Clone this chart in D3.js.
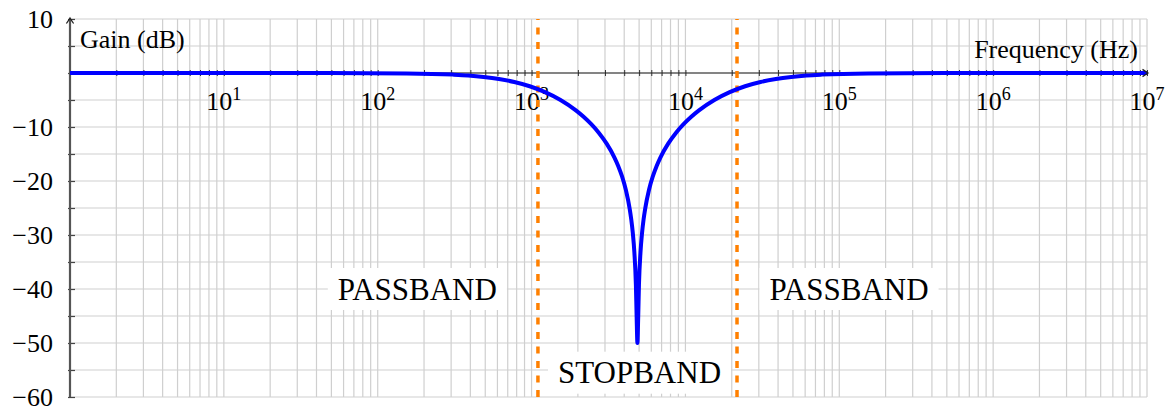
<!DOCTYPE html>
<html>
<head>
<meta charset="utf-8">
<script src="https://cdn.jsdelivr.net/npm/d3@7"></script>
<style>
  body { margin: 0; background: #fff; }
  svg { display: block; }
  text { font-family: "Liberation Serif", "Times New Roman", serif; fill: #000; }
</style>
</head>
<body>
<svg id="chart" width="1172" height="406"></svg>
<script>
// Notch filter magnitude response (frequency in Hz, gain in dB)
const freqHz = [1, 4.875, 15.42, 48.75, 154.2, 307.6, 387.2, 487.5, 613.7, 772.6, 972.7,
  1225, 1542, 1941, 2178, 2443, 2741, 3076, 3451, 3656, 3873, 4102, 4345, 4446, 4550,
  4656, 4764, 4819, 4875, 4932, 4989, 5105, 5224, 5345, 5470, 5794, 6137, 6501, 6886,
  7726, 8669, 9727, 10914, 12245, 15416, 19408, 24432, 30760, 38724, 48750, 61373,
  77264, 154160, 487500, 1541600, 1e7];
const gainDb = [0, 0, 0, -0.01, -0.08, -0.30, -0.46, -0.72, -1.10, -1.66, -2.45,
  -3.55, -5.01, -6.93, -8.11, -9.48, -11.10, -13.08, -15.61, -17.21, -19.16, -21.67, -25.20, -27.14, -29.64,
  -33.16, -39.18, -45.20, -50.0, -45.20, -39.18, -33.16, -29.64, -27.14, -25.20, -21.67, -19.16, -17.21, -15.61,
  -13.08, -11.10, -9.48, -8.11, -6.93, -5.01, -3.55, -2.45, -1.66, -1.10, -0.72, -0.46,
  -0.30, -0.08, -0.01, 0, 0];

// -3 dB cutoff frequencies
const cutoffHz = [1100, 21640];

// Band annotations
const bandNames = ["PASSBAND", "STOPBAND", "PASSBAND"];
const bandHz = [181, 5030, 115700];
const bandDb = [-40, -55.5, -40];

// Axis ticks and titles
const xTickExponents = [1, 2, 3, 4, 5, 6, 7];
const yTickLabels = [10, -10, -20, -30, -40, -50, -60];
const xTitle = "Frequency (Hz)";
const yTitle = "Gain (dB)";

const svg = d3.select("#chart");
const x = d3.scaleLog().domain([1, 1e7]).range([70, 1147]);
const y = d3.scaleLinear().domain([-60, 10]).range([397, 19]);

// every 1..9 x 10^k position for the log grid
const logGrid = [];
for (let k = 0; k < 7; k++) for (let m = 1; m <= 9; m++) logGrid.push(m * Math.pow(10, k));
logGrid.push(1e7);
const dbGrid = d3.range(-60, 10.001, 5);

// grid
const grid = svg.append("g").attr("stroke", "#cfcfcf").attr("stroke-width", 1.2);
grid.selectAll("line.v").data(logGrid).join("line")
  .attr("x1", d => x(d)).attr("x2", d => x(d))
  .attr("y1", y(-60)).attr("y2", y(10));
grid.selectAll("line.h").data(dbGrid).join("line")
  .attr("x1", x(1)).attr("x2", x(1e7))
  .attr("y1", d => y(d)).attr("y2", d => y(d));

// band labels on white boxes
const bands = svg.append("g");
bandNames.forEach((name, i) => {
  const cx = x(bandHz[i]), cy = y(bandDb[i]);
  const g = bands.append("g");
  const rect = g.append("rect").attr("fill", "#fff");
  const t = g.append("text")
    .attr("x", cx).attr("y", cy + 10.5)
    .attr("text-anchor", "middle")
    .attr("font-size", 31)
    .text(name);
  const w = t.node().getComputedTextLength();
  rect.attr("x", cx - w / 2 - 10).attr("y", cy - 21)
    .attr("width", w + 20).attr("height", 42);
});

// x axis along 0 dB with small ticks at every grid position
const xAxisG = svg.append("g").attr("transform", `translate(0,${y(0) + 3})`)
  .call(d3.axisBottom(x).tickValues(logGrid.slice(1)).tickSize(-6).tickFormat(""));
xAxisG.select(".domain").remove();
xAxisG.selectAll(".tick line").attr("stroke", "#333").attr("stroke-width", 1);
svg.append("line")
  .attr("x1", x(1)).attr("x2", x(1e7) - 1)
  .attr("y1", y(0)).attr("y2", y(0))
  .attr("stroke", "#222").attr("stroke-width", 1.2);

// x tick labels 10^k
const xLab = svg.append("g");
xTickExponents.forEach(e => {
  const t = xLab.append("text")
    .attr("x", x(Math.pow(10, e))).attr("y", 110)
    .attr("text-anchor", "middle")
    .attr("font-size", 26);
  t.append("tspan").text("10");
  t.append("tspan").attr("font-size", 18).attr("dy", -10).text(e);
});

// y axis: ticks every 5 dB, labels every 10 dB
const yTickG = svg.append("g").attr("transform", `translate(${x(1) - 2},0)`)
  .call(d3.axisRight(y).tickValues(dbGrid).tickSize(7).tickFormat(""));
yTickG.select(".domain").remove();
yTickG.selectAll(".tick line").attr("stroke", "#444").attr("stroke-width", 1.2);

const yLabG = svg.append("g").attr("transform", `translate(${x(1)},0)`)
  .call(d3.axisLeft(y).tickValues(yTickLabels).tickSize(0).tickPadding(17)
    .tickFormat(d3.format("d")));
yLabG.select(".domain").remove();
yLabG.selectAll(".tick text")
  .attr("font-size", 26)
  .attr("font-family", "Liberation Serif, serif")
  .attr("fill", "#000")
  .attr("dy", "0.34em");

svg.append("line")
  .attr("x1", x(1)).attr("x2", x(1))
  .attr("y1", y(-60)).attr("y2", y(10) + 1)
  .attr("stroke", "#555").attr("stroke-width", 2.2);

// axis titles
svg.append("text").attr("x", 80).attr("y", 48).attr("font-size", 26).text(yTitle);
svg.append("text").attr("x", 1138).attr("y", 58).attr("text-anchor", "end")
  .attr("font-size", 26).text(xTitle);

// cutoff markers
svg.append("g").selectAll("line").data(cutoffHz).join("line")
  .attr("x1", d => x(d)).attr("x2", d => x(d))
  .attr("y1", y(-60)).attr("y2", y(10))
  .attr("stroke", "#ff8000").attr("stroke-width", 3.5)
  .attr("stroke-dasharray", "7,7.5");

// response curve
const line = d3.line()
  .x((d, i) => x(freqHz[i]))
  .y(d => y(d))
  .curve(d3.curveMonotoneX);
svg.append("path")
  .attr("d", line(gainDb))
  .attr("fill", "none")
  .attr("stroke", "#0000ff")
  .attr("stroke-width", 4)
  .attr("stroke-linejoin", "round");

// arrow heads
const arrow = "M-3.6,5.5 Q-1,1.8 0,0 Q1,1.8 3.6,5.5";
svg.append("path").attr("d", arrow)
  .attr("transform", `translate(${x(1)},${y(10) - 1})`)
  .attr("fill", "none").attr("stroke", "#222").attr("stroke-width", 1.3);
svg.append("path").attr("d", arrow)
  .attr("transform", `translate(${x(1e7) + 1},${y(0)}) rotate(90)`)
  .attr("fill", "none").attr("stroke", "#222").attr("stroke-width", 1.3);
</script>
</body>
</html>
